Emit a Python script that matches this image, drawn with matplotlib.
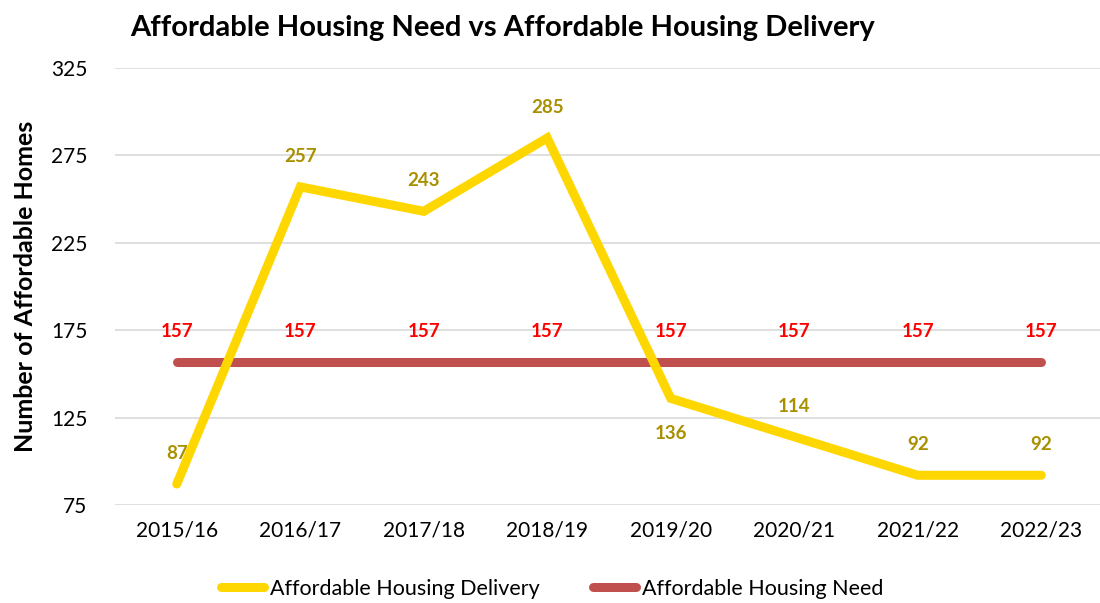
import matplotlib
matplotlib.use("Agg")
import matplotlib.pyplot as plt

plt.rcParams['font.family'] = ['Lato', 'DejaVu Sans']

years = ["2015/16", "2016/17", "2017/18", "2018/19",
         "2019/20", "2020/21", "2021/22", "2022/23"]
delivery = [87, 257, 243, 285, 136, 114, 92, 92]
need = [157, 157, 157, 157, 157, 157, 157, 157]

yellow = "#FFD700"
red_line = "#C0504D"
gold_text = "#A89000"

fig = plt.figure(figsize=(11, 6.03), dpi=100)
W, H = 1100, 603
left, right, top, bottom = 115, 1103, 68, 505
ax = fig.add_axes([left / W, 1 - bottom / H, (right - left) / W, (bottom - top) / H])

x = list(range(len(years)))
ax.plot(x, delivery, color=yellow, lw=6.5, solid_capstyle='round',
        solid_joinstyle='miter', label="Affordable Housing Delivery", zorder=3)
ax.plot(x, need, color=red_line, lw=6.5, solid_capstyle='round',
        label="Affordable Housing Need", zorder=2)

# data labels
for i, v in enumerate(delivery):
    off = -25 if v == 136 else 22
    ax.annotate(str(v), (i, v), xytext=(0, off), textcoords='offset points',
                ha='center', va='center', color=gold_text, fontsize=13.5, fontweight='bold')
for i, v in enumerate(need):
    ax.annotate(str(v), (i, v), xytext=(0, 22), textcoords='offset points',
                ha='center', va='center', color='#FF0000', fontsize=13.5, fontweight='bold')

ax.set_xlim(-0.5, len(years) - 0.5)
ax.set_ylim(75, 325)
ax.set_yticks([75, 125, 175, 225, 275, 325])
ax.set_xticks(x)
ax.set_xticklabels(years)
ax.tick_params(axis='both', length=0, labelsize=15, colors='black')
ax.tick_params(axis='y', pad=20)
ax.tick_params(axis='x', pad=11)
ax.grid(axis='y', color='#D9D9D9', lw=1.2)
ax.set_axisbelow(True)
for s in ax.spines.values():
    s.set_visible(False)

ax.set_ylabel("Number of Affordable Homes", fontsize=18, fontweight='bold', labelpad=10)

fig.text(130 / W, 1 - 28 / H, "Affordable Housing Need vs Affordable Housing Delivery",
         fontsize=21, fontweight='bold', ha='left', va='center')

fig.legend(loc='center', bbox_to_anchor=(552 / W, 1 - 589 / H), ncol=2, frameon=False,
           fontsize=15.5, handlelength=2.0, handletextpad=0.25, columnspacing=2.5)

fig.savefig("out.png", dpi=100)
